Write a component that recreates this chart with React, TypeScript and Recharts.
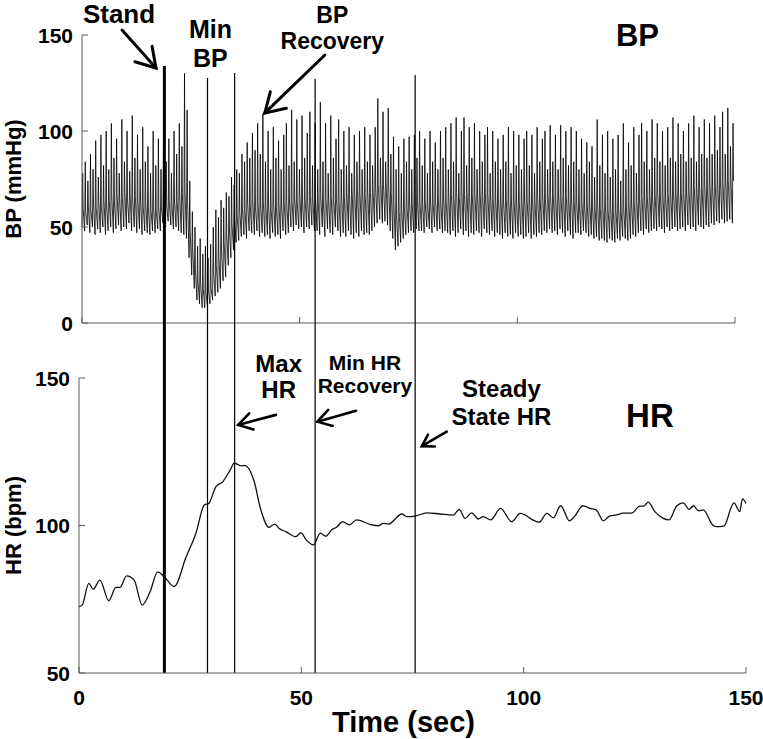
import { LineChart, Line, XAxis, YAxis, ReferenceLine, ReferenceDot } from "recharts";

const FONT = "'Liberation Sans', Arial, Helvetica, sans-serif";
const BEAT_SEC = 0.6;

// BP per beat (mmHg), one beat every 0.6 s
const bpSys = [
  78, 84, 74, 88, 80, 95, 76, 98, 82, 100,
  80, 104, 86, 96, 78, 106, 84, 100, 79, 108,
  86, 98, 80, 102, 84, 92, 78, 100, 82, 96,
  80, 101, 84, 96, 78, 100, 88, 104, 92, 130,
  111, 74, 58, 50, 40, 44, 36, 40, 34, 41,
  50, 59, 55, 64, 60, 68, 66, 76, 72, 80,
  78, 88, 84, 94, 86, 99, 90, 104, 88, 109,
  84, 100, 80, 102, 86, 95, 80, 98, 104, 82,
  111, 84, 106, 80, 108, 86, 99, 110, 82, 104,
  80, 115, 84, 104, 78, 108, 86, 96, 106, 80,
  100, 82, 102, 78, 98, 84, 100, 80, 102, 84,
  98, 82, 102, 117, 86, 110, 84, 112, 88, 97,
  80, 92, 78, 96, 84, 97, 80, 98, 86, 100,
  82, 96, 78, 100, 84, 94, 80, 100, 86, 102,
  80, 104, 84, 107, 78, 100, 107, 82, 102, 86,
  104, 80, 100, 84, 98, 102, 78, 100, 84, 96,
  80, 98, 84, 102, 78, 100, 82, 98, 80, 96,
  100, 82, 98, 78, 102, 84, 96, 100, 80, 103,
  84, 98, 80, 103, 86, 100, 82, 102, 84, 100,
  80, 96, 78, 94, 84, 92, 76, 106, 82, 98,
  78, 100, 76, 96, 80, 98, 74, 104, 80, 94,
  82, 102, 78, 98, 104, 84, 100, 80, 106, 86,
  104, 84, 100, 82, 102, 86, 107, 84, 104, 88,
  100, 84, 104, 86, 108, 84, 102, 88, 106, 86,
  104, 88, 108, 90, 102, 110, 88, 112, 92, 104,
];

const bpDia = [
  50, 48, 51, 47, 50, 46, 49, 47, 50, 46,
  48, 50, 47, 49, 51, 48, 50, 49, 52, 48,
  50, 47, 49, 46, 48, 47, 46, 48, 47, 49,
  48, 52, 50, 53, 51, 49, 50, 48, 47, 46,
  44, 34, 25, 18, 12, 10, 8, 8, 9, 10,
  12, 14, 16, 18, 22, 24, 30, 34, 38, 42,
  43, 45, 46, 44, 48, 47, 46, 48, 45, 47,
  45, 46, 44, 47, 45, 46, 44, 48, 46, 47,
  50, 48, 51, 49, 50, 47, 50, 49, 51, 48,
  48, 46, 50, 45, 49, 47, 46, 50, 48, 45,
  47, 45, 48, 46, 44, 47, 45, 48, 46, 47,
  46, 48, 50, 52, 54, 52, 53, 51, 48, 44,
  38, 40, 42, 44, 46, 47, 48, 47, 49, 48,
  48, 47, 50, 49, 47, 50, 48, 49, 47, 48,
  47, 46, 48, 45, 47, 49, 46, 48, 45, 47,
  46, 48, 47, 45, 49, 47, 46, 48, 45, 47,
  46, 44, 47, 45, 46, 44, 47, 45, 46, 44,
  45, 47, 44, 46, 45, 47, 46, 48, 47, 49,
  47, 48, 46, 49, 47, 45, 48, 46, 44, 47,
  47, 46, 48, 47, 45, 46, 44, 45, 43, 44,
  43, 42, 44, 43, 42, 44, 43, 45, 44, 43,
  44, 46, 45, 47, 48, 46, 49, 47, 48, 49,
  48, 50, 49, 47, 50, 48, 49, 50, 48, 49,
  50, 48, 51, 49, 50, 48, 51, 50, 49, 51,
  50, 52, 51, 53, 52, 54, 52, 53, 54, 52,
];

// level right after the systolic upstroke (the dark band)
const bpMid = [
  60, 58, 61, 59, 62, 60, 63, 61, 64, 62,
  64, 66, 63, 67, 65, 66, 68, 64, 67, 65,
  66, 63, 64, 61, 62, 60, 59, 60, 58, 60,
  60, 62, 61, 63, 62, 63, 64, 66, 68, 70,
  64, 48, 38, 28, 22, 20, 18, 16, 17, 18,
  26, 30, 34, 38, 42, 46, 50, 52, 54, 56,
  58, 60, 59, 62, 61, 63, 60, 62, 61, 63,
  60, 61, 59, 62, 60, 62, 61, 63, 62, 64,
  64, 65, 63, 66, 64, 65, 63, 66, 64, 65,
  64, 66, 63, 65, 64, 66, 64, 65, 63, 66,
  66, 68, 67, 69, 68, 70, 68, 69, 67, 68,
  68, 70, 71, 72, 73, 72, 73, 72, 68, 62,
  56, 58, 59, 60, 61, 62, 62, 61, 63, 62,
  62, 63, 61, 64, 62, 63, 64, 62, 65, 64,
  66, 67, 65, 68, 66, 69, 67, 68, 66, 67,
  68, 67, 69, 66, 68, 67, 66, 65, 64, 65,
  64, 63, 65, 64, 63, 64, 62, 63, 64, 65,
  64, 63, 65, 64, 66, 65, 66, 65, 67, 66,
  66, 65, 67, 66, 65, 66, 64, 65, 64, 63,
  62, 63, 61, 62, 62, 61, 60, 61, 60, 61,
  60, 59, 60, 58, 59, 60, 58, 60, 61, 62,
  62, 63, 64, 65, 66, 65, 66, 67, 66, 67,
  68, 67, 68, 66, 68, 67, 69, 68, 67, 68,
  68, 69, 70, 69, 71, 70, 71, 70, 72, 71,
  72, 71, 73, 72, 74, 73, 75, 74, 76, 74,
];

// heart rate trace (sec, bpm)
const hrTime = [
  0, 0.7, 2.2, 3.2, 4.7, 6.7, 8.3, 9.2, 10.7, 12.4, 14.2, 16, 17.7, 19, 21.4,
  24.1, 26.3, 28.2, 29.2, 30.8, 32.3, 34, 34.9, 36.6, 37.3, 39.3, 40.9, 42.7,
  44, 45, 46.5, 48.8, 49.9, 51, 52.7, 54.3, 55.5, 56.8, 57.9, 59.3, 60.8, 62.4,
  65.4, 67.3, 68.4, 69.6, 72.6, 73.7, 75.6, 78.2, 81.2, 84.2, 85.5, 86.8, 88.3,
  89.8, 90.9, 92.6, 94.8, 97.3, 99.2, 100.3, 101.8, 103.5, 105.2, 106.7, 108.3,
  110.3, 111.5, 113.3, 114.9, 116.3, 117.9, 119.3, 120.9, 122.4, 124.3, 126.1,
  127, 128, 129.5, 131.4, 132.7, 134.4, 135.9, 137.2, 138.2, 139.3, 140.4,
  142.5, 143.4, 145, 147.3, 148.6, 149.2, 150,
];
const hrBpm = [
  72.5, 73, 80.4, 78.4, 81.5, 74.5, 79, 79, 82.9, 81.5, 73, 77.6, 84.3, 82.9, 79.3,
  89.4, 97.4, 107, 107.5, 113.2, 114.8, 118.8, 121.1, 120.2, 120.4, 115.4, 105.3, 99.4,
  100.5, 99, 97.9, 96.2, 97.6, 95.3, 93.4, 97.4, 96.4, 98.5, 99.4, 101.3, 100.2, 101.9,
  100.4, 99.9, 100.7, 100.5, 103.9, 103, 103.2, 104.3, 103.9, 103.5, 105.5, 102.4, 104.3,
  102.2, 103, 101.9, 105.8, 101.3, 104.1, 103.6, 102.1, 101.1, 104.1, 102.6, 106.7,
  101.6, 103.2, 106.7, 105.8, 105.3, 101.6, 103.2, 103.6, 104.2, 104.2, 106.6,
  106.6, 107.9, 104.7, 102.4, 101.9, 106.6, 107.7, 105.5, 106.7, 105, 105.3,
  100.2, 99.6, 99.8, 107.7, 104.7, 109, 107.5,
];

// stand, min BP, max HR, min HR recovery, steady state (sec)
const eventTimes = [19.2, 28.9, 35, 53.1, 75.6];

const timeTicks = [0, 50, 100, 150];
const bpTicks = [0, 50, 100, 150];
const hrTicks = [50, 100, 150];

const bpData = bpSys.flatMap((sys, i) => {
  const t = i * BEAT_SEC;
  return [
    { t, bp: bpDia[i] },
    { t: t + 0.15, bp: sys },
    { t: t + 0.25, bp: bpMid[i] },
  ];
});

const hrData = hrTime.map((t, i) => ({ t, hr: hrBpm[i] }));

const AXIS = "#5a5a5a";
const TICK_SIZE = 21;

const yTick = (p: any) => (
  <text
    x={p.x}
    y={p.y}
    dy="0.36em"
    textAnchor="end"
    fontFamily={FONT}
    fontWeight="bold"
    fontSize={TICK_SIZE}
    fill="#000"
  >
    {p.payload.value}
  </text>
);

const xTick = (p: any) => (
  <text
    x={p.x}
    y={p.y}
    dy="0.72em"
    textAnchor="middle"
    fontFamily={FONT}
    fontWeight="bold"
    fontSize={TICK_SIZE}
    fill="#000"
  >
    {p.payload.value}
  </text>
);

const noTick = () => <g />;

function YTitle({ viewBox, text }: any) {
  const x = viewBox.x + 13;
  const y = viewBox.y + viewBox.height / 2;
  return (
    <text
      x={x}
      y={y}
      transform={`rotate(-90 ${x} ${y})`}
      textAnchor="middle"
      dominantBaseline="central"
      fontFamily={FONT}
      fontWeight="bold"
      fontSize={22}
      fill="#000"
    >
      {text}
    </text>
  );
}

function XTitle({ viewBox, text }: any) {
  return (
    <text
      x={viewBox.x + viewBox.width / 2 - 9}
      y={viewBox.y + 59}
      textAnchor="middle"
      fontFamily={FONT}
      fontWeight="bold"
      fontSize={29}
      fill="#000"
    >
      {text}
    </text>
  );
}

const note = (text: string, size: number) => (p: any) => (
  <text
    x={p.cx}
    y={p.cy}
    textAnchor="middle"
    fontFamily={FONT}
    fontWeight="bold"
    fontSize={size}
    fill="#000"
  >
    {text}
  </text>
);

const arrow = (head: number, width: number) => (p: any) => {
  const { x1, y1, x2, y2 } = p;
  const ang = Math.atan2(y1 - y2, x1 - x2);
  const a = [x2 + head * Math.cos(ang + 0.55), y2 + head * Math.sin(ang + 0.55)];
  const b = [x2 + head * Math.cos(ang - 0.55), y2 + head * Math.sin(ang - 0.55)];
  return (
    <g stroke="#000" strokeWidth={width} fill="none" strokeLinecap="round">
      <line x1={x1} y1={y1} x2={x2} y2={y2} />
      <polyline points={`${a[0]},${a[1]} ${x2},${y2} ${b[0]},${b[1]}`} />
    </g>
  );
};

function BpPanel() {
  return (
    <LineChart
      width={763}
      height={340}
      data={bpData}
      margin={{ top: 35, right: 28, left: 0, bottom: 7 }}
      style={{ overflow: "visible" }}
    >
      <XAxis
        type="number"
        dataKey="t"
        domain={[0, 150]}
        ticks={timeTicks}
        height={10}
        tick={noTick}
        tickSize={-6}
        stroke={AXIS}
      />
      <YAxis
        type="number"
        domain={[0, 150]}
        ticks={bpTicks}
        width={82}
        tickSize={-6}
        tickMargin={15}
        tick={yTick}
        stroke={AXIS}
        label={<YTitle text="BP (mmHg)" />}
      />
      <Line
        dataKey="bp"
        type="linear"
        stroke="#000"
        strokeWidth={0.8}
        dot={false}
        isAnimationActive={false}
      />
      <ReferenceLine
        segment={[{ x: 9.19, y: 152.6 }, { x: 17, y: 132.8 }]}
        ifOverflow="visible"
        shape={arrow(22, 3)}
      />
      <ReferenceLine
        segment={[{ x: 55.8, y: 139.6 }, { x: 42, y: 109.4 }]}
        ifOverflow="visible"
        shape={arrow(22, 3)}
      />
      <ReferenceDot x={8.5} y={156} r={0} ifOverflow="visible" shape={note("Stand", 26)} />
      <ReferenceDot x={29.5} y={148.4} r={0} ifOverflow="visible" shape={note("Min", 25)} />
      <ReferenceDot x={29.5} y={133.3} r={0} ifOverflow="visible" shape={note("BP", 25)} />
      <ReferenceDot x={57.5} y={156.2} r={0} ifOverflow="visible" shape={note("BP", 23)} />
      <ReferenceDot x={57.5} y={142.7} r={0} ifOverflow="visible" shape={note("Recovery", 23)} />
      <ReferenceDot x={127.6} y={144.3} r={0} ifOverflow="visible" shape={note("BP", 31)} />
    </LineChart>
  );
}

function HrPanel() {
  const tops = [255.8, 251.7, 253.4, 251.4, 252.7];
  return (
    <LineChart
      width={763}
      height={739}
      data={hrData}
      margin={{ top: 378, right: 17, left: 0, bottom: 16 }}
    >
      <XAxis
        type="number"
        dataKey="t"
        domain={[0, 150]}
        ticks={timeTicks}
        height={50}
        tickSize={-6}
        tickMargin={23}
        tick={xTick}
        stroke={AXIS}
        label={<XTitle text="Time (sec)" />}
      />
      <YAxis
        type="number"
        domain={[50, 150]}
        ticks={hrTicks}
        width={79}
        tickSize={-6}
        tickMargin={15}
        tick={yTick}
        stroke={AXIS}
        label={<YTitle text="HR (bpm)" />}
      />
      <Line
        dataKey="hr"
        type="monotone"
        stroke="#111"
        strokeWidth={1.3}
        dot={false}
        isAnimationActive={false}
      />
      {eventTimes.map((t, i) => (
        <ReferenceLine
          key={t}
          segment={[{ x: t, y: 50 }, { x: t, y: tops[i] }]}
          ifOverflow="visible"
          stroke="#000"
          strokeWidth={i === 0 ? 3 : 1.2}
        />
      ))}
      <ReferenceLine
        segment={[{ x: 44.3, y: 137.5 }, { x: 35.8, y: 134.1 }]}
        ifOverflow="visible"
        shape={arrow(16, 2.6)}
      />
      <ReferenceLine
        segment={[{ x: 62.3, y: 138.9 }, { x: 53.6, y: 135.2 }]}
        ifOverflow="visible"
        shape={arrow(16, 2.6)}
      />
      <ReferenceLine
        segment={[{ x: 82.7, y: 131.8 }, { x: 77.1, y: 126.9 }]}
        ifOverflow="visible"
        shape={arrow(13, 2.6)}
      />
      <ReferenceDot x={44.9} y={152} r={0} ifOverflow="visible" shape={note("Max", 24)} />
      <ReferenceDot x={44.9} y={143.2} r={0} ifOverflow="visible" shape={note("HR", 24)} />
      <ReferenceDot x={64.3} y={152.7} r={0} ifOverflow="visible" shape={note("Min HR", 21)} />
      <ReferenceDot x={64.3} y={144.9} r={0} ifOverflow="visible" shape={note("Recovery", 21)} />
      <ReferenceDot x={95} y={143.6} r={0} ifOverflow="visible" shape={note("Steady", 24)} />
      <ReferenceDot x={95} y={134.1} r={0} ifOverflow="visible" shape={note("State HR", 24)} />
      <ReferenceDot x={128.4} y={133.4} r={0} ifOverflow="visible" shape={note("HR", 33)} />
    </LineChart>
  );
}

export default function App() {
  return (
    <div style={{ position: "absolute", left: 0, top: 0, width: 763, height: 739, background: "#fff" }}>
      <div style={{ position: "absolute", left: 0, top: 0 }}>
        <BpPanel />
      </div>
      <div style={{ position: "absolute", left: 0, top: 0 }}>
        <HrPanel />
      </div>
    </div>
  );
}
